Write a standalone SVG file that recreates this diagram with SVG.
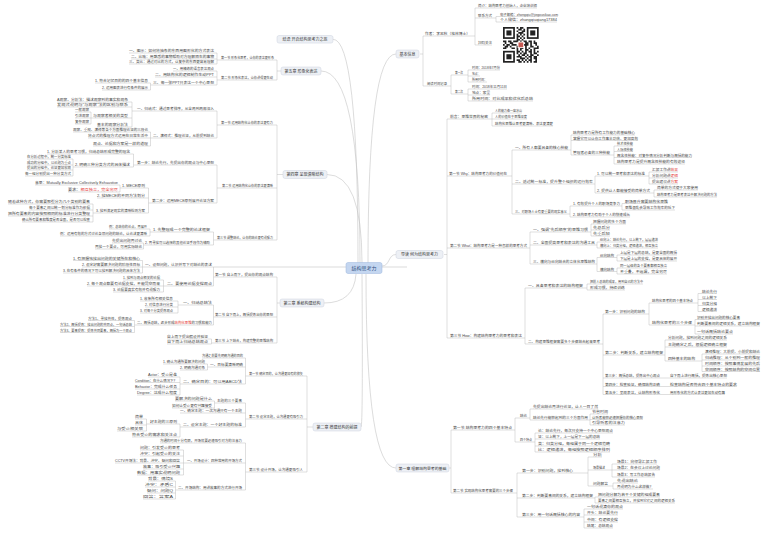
<svg xmlns="http://www.w3.org/2000/svg" width="768" height="536" viewBox="0 0 768 536">
<style>
text{font-family:"Liberation Sans","Noto Sans CJK SC",sans-serif}
.n text{font-size:3.5px;fill:#454545}
.n line{stroke:#b8b8b8;stroke-width:.45}
#connectors path{stroke:#b8b8b8;stroke-width:.45;fill:none}
#curves path{stroke:#c4c4c4;stroke-width:.6;fill:none}
.box rect{fill:#edf0f5;stroke:#ccd3df;stroke-width:.5}
.box text{font-size:4px;fill:#333;text-anchor:middle}
.r{fill:#e53935}
</style>
<rect width="768" height="536" fill="#fff"/>
<g id="curves">
<path d="M368,263 Q368,54 396,54"/>
<path d="M382,266 C390,266 388,254.5 396,254.5"/>
<path d="M366,274 Q366,468 396,468"/>
<path d="M358,263 Q358,39.3 333,39.3"/>
<path d="M360,263 Q360,71 321,71"/>
<path d="M362,263 Q362,174.5 327,174.5"/>
<path d="M356,274 Q354,303 324,303"/>
<path d="M362,274 Q363,427 361,427"/>
<path d="M213.5,267 H346 M382,267 H407"/>
</g>
<g id="connectors">
<path d="M420,54 H423 M423,36 V86 M423,36 H425 M423,86 H427"/>
<path d="M470,36 H475 M475,8 V45 M475,8 H478 M475,18 H478 M475,45 H478"/>
<path d="M492,18 H496 M496,16.5 V22 M496,16.5 H500 M496,22 H500"/>
<path d="M447,86 H451 M451,75 V94 M451,75 H455 M451,94 H455"/>
<path d="M463,75 H468 M468,70 V82 M468,70 H472 M468,76 H472 M468,82 H472"/>
<path d="M463,94 H468 M468,89 V101 M468,89 H472 M468,95 H472 M468,101 H472"/>
<path d="M444,254.5 H447 M447,119 V338 M447,119 H450 M447,176 H449 M447,248 H450 M447,338 H450"/>
<path d="M488,119 H492 M492,113 V126 M492,113 H495 M492,119 H495 M492,126 H495"/>
<path d="M507,176 H512 M512,150 V214 M512,150 H515 M512,184 H515 M512,214 H515"/>
<path d="M568,150 H571 M571,135 V155 M571,135 H573 M571,140.5 H573 M571,155 H573"/>
<path d="M610,155 H614 M614,146 V164 M614,146 H617 M614,151.5 H617 M614,157.5 H617 M614,164 H617"/>
<path d="M593,184 H595 M595,176 V193 M595,176 H597 M595,193 H597"/>
<path d="M645,176 H649 M649,172 V184 M649,172 H652 M649,178 H652 M649,184 H652"/>
<path d="M650,193 H654 M654,190 V197 M654,190 H657 M654,197 H657"/>
<path d="M567,214 H570 M570,206 V217 M570,206 H573 M570,217 H573"/>
<path d="M620,206 H622 M622,203.5 V210 M622,203.5 H625 M622,210 H625"/>
<path d="M527,248 H530 M530,232 V264 M530,232 H533 M530,245 H533 M530,264 H533"/>
<path d="M588,232 H591 M591,224 V236 M591,224 H593 M591,230 H593 M591,236 H593"/>
<path d="M595,245 H597 M597,242 V248 M597,242 H600 M597,248 H600"/>
<path d="M595,264 H597 M597,257.5 V271.5 M597,257.5 H600 M597,271.5 H600"/>
<path d="M614,257.5 H617 M617,255 V261 M617,255 H620 M617,261 H620"/>
<path d="M614,271.5 H617 M617,268 V274 M617,268 H620 M617,274 H620"/>
<path d="M522,338 H525 M525,288 V344 M525,288 H528 M525,344 H528"/>
<path d="M583,288 H587 M587,284 V290 M587,284 H590 M587,290 H590"/>
<path d="M600,344 H603 M603,314 V394.5 M603,314 H605 M603,355 H605 M603,378 H605 M603,386.5 H605 M603,394.5 H605"/>
<path d="M645,314 H649 M649,303 V325 M649,303 H652 M649,325 H652"/>
<path d="M693,303 H698 M698,293.5 V311.5 M698,293.5 H702 M698,299.5 H702 M698,305.5 H702 M698,311.5 H702"/>
<path d="M692,325 H695 M695,319.5 V334 M695,319.5 H697 M695,326 H697 M695,334 H697"/>
<path d="M663,355 H665 M665,340 V361 M665,340 H668 M665,347 H668 M665,361 H668"/>
<path d="M695,361 H702 M702,354 V371.5 M702,354 H705 M702,360 H705 M702,366 H705 M702,371.5 H705"/>
<path d="M660,378 H670 M660,386.5 H670 M660,394.5 H670"/>
<path d="M449,468 H451 M451,430 V493 M451,430 H453 M451,493 H453"/>
<path d="M512,430 H515 M515,418 V442 M515,418 H520 M515,442 H520"/>
<path d="M527,418 H530 M530,409 V420 M530,409 H533 M530,420 H533"/>
<path d="M588,420 H590 M590,414 V425 M590,414 H592 M590,419.5 H592 M590,425 H592"/>
<path d="M532,442 H535 M535,433 V452 M535,433 H538 M535,439 H538 M535,446 H538 M535,452 H538"/>
<path d="M513,493 H517 M517,473 V517 M517,473 H522 M517,498 H522 M517,517 H522"/>
<path d="M573,473 H588 M588,457 V486 M588,457 H593 M588,470 H593 M588,486 H593"/>
<path d="M605,470 H612 M612,464 V477 M612,464 H617 M612,470 H617 M612,477 H617"/>
<path d="M608,486 H613 M613,483 V489 M613,483 H617 M613,489 H617"/>
<path d="M593,498 H595 M595,497 V503 M595,497 H598 M595,503 H598"/>
<path d="M580,517 H584 M584,509 V528 M584,509 H587 M584,515 H587 M584,522 H587 M584,528 H587"/>
<path d="M281,71 H277 M277,60 V80 M277,60 H274 M277,80 H273"/>
<path d="M221,60 H217 M217,53 V64 M217,53 H214 M217,59 H214 M217,64 H214"/>
<path d="M221,80 H217 M217,71 V85 M217,71 H214 M217,77 H214 M217,85 H214"/>
<path d="M153,85 H150.5 M150.5,83 V90 M150.5,83 H148 M150.5,90 H148"/>
<path d="M283,174.5 H277 M277,125 V240 M277,125 H273 M277,188 H273 M277,240 H273"/>
<path d="M221,125 H217 M217,111 V138 M217,111 H214 M217,138 H214"/>
<path d="M137,111 H132 M132,102 V127 M132,102 H128 M132,107 H128 M132,118 H128 M132,127 H128"/>
<path d="M93,118 H91 M91,112 V124 M91,112 H89 M91,118 H89 M91,124 H89"/>
<path d="M153,138 H150.5 M150.5,132 V146 M150.5,132 H148 M150.5,138 H148 M150.5,146 H148"/>
<path d="M222,188 H217 M217,165 V203 M217,165 H214 M217,203 H214"/>
<path d="M137,165 H133.5 M133.5,154 V167 M133.5,154 H130 M133.5,167 H130"/>
<path d="M75,167 H73 M73,159 V176 M73,159 H71 M73,165 H71 M73,170 H71 M73,176 H71"/>
<path d="M152,203 H148.5 M148.5,188 V213 M148.5,188 H145 M148.5,198 H145 M148.5,213 H145"/>
<path d="M122,188 H120 M120,185 V192 M120,185 H118 M120,192 H118"/>
<path d="M96,213 H93 M93,204 V222 M93,204 H90 M93,210 H90 M93,216 H90 M93,222 H90"/>
<path d="M217,240 H213.5 M213.5,232 V245 M213.5,232 H210 M213.5,245 H210"/>
<path d="M153,232 H150 M150,229 V236 M150,229 H147 M150,236 H147"/>
<path d="M145,245 H143.5 M143.5,243 V249 M143.5,243 H142 M143.5,249 H142"/>
<path d="M280,303 H277 M277,277 V343 M277,277 H273 M277,317 H273 M277,343 H273"/>
<path d="M215,277 H213.5 M213.5,267 V286 M213.5,267 H212 M213.5,286 H212"/>
<path d="M145,267 H142.5 M142.5,260.5 V273 M142.5,260.5 H140 M142.5,267 H140 M142.5,273 H140"/>
<path d="M167,286 H163.5 M163.5,280 V292 M163.5,280 H160 M163.5,286 H160 M163.5,292 H160"/>
<path d="M215,317 H213.5 M213.5,305 V325 M213.5,305 H212 M213.5,325 H212"/>
<path d="M183,305 H178 M178,301 V313 M178,301 H173 M178,307 H173 M178,313 H173"/>
<path d="M137,325 H134.5 M134.5,320.5 V332.5 M134.5,320.5 H132 M134.5,326.5 H132 M134.5,332.5 H132"/>
<path d="M215,343 H211.5 M211.5,339 V344 M211.5,339 H208 M211.5,344 H208"/>
<path d="M313,427 H307 M307,376 V472 M307,376 H303 M307,419 H303 M307,472 H303"/>
<path d="M249,376 H245.5 M245.5,358 V384 M245.5,358 H243 M245.5,367 H243 M245.5,384 H242"/>
<path d="M210,367 H207.5 M207.5,364 V370 M207.5,364 H205 M207.5,370 H205"/>
<path d="M183,384 H180 M180,377 V395 M180,377 H177 M180,382.5 H177 M180,389 H177 M180,395 H177"/>
<path d="M249,419 H245.5 M245.5,403 V427 M245.5,403 H242 M245.5,413 H242 M245.5,427 H242"/>
<path d="M217,403 H214.5 M214.5,401 V408 M214.5,401 H212 M214.5,408 H212"/>
<path d="M183,427 H180 M180,424 V437 M180,424 H177 M180,437 H177"/>
<path d="M150,424 H146.5 M146.5,419 V431 M146.5,419 H143 M146.5,425 H143 M146.5,431 H143"/>
<path d="M249,472 H245.5 M245.5,443 V490 M245.5,443 H242 M245.5,463 H242 M245.5,490 H242"/>
<path d="M187,463 H183.5 M183.5,450 V475 M183.5,450 H180 M183.5,456 H180 M183.5,463 H180 M183.5,469 H180 M183.5,475 H180"/>
<path d="M178,490 H175.5 M175.5,481 V499 M175.5,481 H173 M175.5,487 H173 M175.5,493 H173 M175.5,499 H173"/>
</g>
<g id="center" class="box"><rect x="346" y="262.5" width="36" height="11" rx="2" style="fill:#c4d6f0;stroke:#9db6dc"/><text x="364" y="270" style="font-size:5px;fill:#2f4f80">结构思考力</text></g>
<g id="b-info" class="box"><rect x="396" y="50" width="23" height="8" rx="2"/><text x="407.5" y="55.5">基本信息</text></g>
<g id="b-guide" class="box"><rect x="396" y="250.5" width="47" height="8" rx="2"/><text x="419.5" y="256">导读 何为结构思考力</text></g>
<g id="b-ch1" class="box"><rect x="396" y="464" width="53" height="8" rx="2"/><text x="422.5" y="469.5" style="font-size:3.9px">第一章 理解结构思考的基础</text></g>
<g id="b-end" class="box"><rect x="277" y="35.5" width="56" height="7.6" rx="2"/><text x="305" y="40.8">结语 开启结构思考力之旅</text></g>
<g id="b-ch5" class="box"><rect x="281" y="67" width="40" height="8" rx="2"/><text x="301" y="72.5">第五章 形象化表达</text></g>
<g id="b-ch4" class="box"><rect x="283" y="170.5" width="44" height="8" rx="2"/><text x="305" y="176">第四章 呈现清晰结构</text></g>
<g id="b-ch3" class="box"><rect x="280" y="299" width="44" height="8" rx="2"/><text x="302" y="304.5">第三章 系统构建结构</text></g>
<g id="b-ch2" class="box"><rect x="313" y="423" width="48" height="8" rx="2"/><text x="337" y="428.5">第二章 搭建结构的前提</text></g>
<g id="qr" transform="translate(503,27) scale(1.7)">
<rect x="-0.5" y="-0.5" width="22" height="22" fill="#fff"/>
<g fill="none" stroke="#222" stroke-width="1"><rect x=".5" y=".5" width="6" height="6"/><rect x="14.5" y=".5" width="6" height="6"/><rect x=".5" y="14.5" width="6" height="6"/></g>
<g fill="#222"><rect x="2" y="2" width="3" height="3"/><rect x="16" y="2" width="3" height="3"/><rect x="2" y="16" width="3" height="3"/>
<path d="M8 0h1v1h-1zM10 0h2v1h-2zM9 1h2v1h-2zM12 1h1v1h-1zM8 2h1v1h-1zM11 2h2v1h-2zM9 3h3v1h-3zM8 4h1v1h-1zM10 4h1v1h-1zM12 4h1v1h-1zM8 5h2v1h-2zM11 5h1v1h-1zM8 6h1v1h-1zM10 6h1v1h-1zM12 6h1v1h-1zM8 7h2v1h-2zM11 7h1v1h-1zM0 8h2v1h-2zM3 8h2v1h-2zM6 8h3v1h-3zM10 8h1v1h-1zM12 8h2v1h-2zM15 8h2v1h-2zM18 8h1v1h-1zM1 9h1v1h-1zM4 9h2v1h-2zM9 9h3v1h-3zM13 9h2v1h-2zM16 9h1v1h-1zM18 9h2v1h-2zM0 10h1v1h-1zM2 10h2v1h-2zM5 10h3v1h-3zM9 10h1v1h-1zM12 10h3v1h-3zM16 10h1v1h-1zM19 10h1v1h-1zM1 11h2v1h-2zM4 11h1v1h-1zM8 11h1v1h-1zM10 11h2v1h-2zM13 11h1v1h-1zM16 11h2v1h-2zM20 11h1v1h-1zM0 12h2v1h-2zM5 12h2v1h-2zM8 12h1v1h-1zM10 12h2v1h-2zM13 12h1v1h-1zM15 12h1v1h-1zM18 12h3v1h-3zM8 13h1v1h-1zM10 13h1v1h-1zM13 13h2v1h-2zM16 13h1v1h-1zM18 13h1v1h-1zM8 14h2v1h-2zM11 14h1v1h-1zM13 14h1v1h-1zM15 14h2v1h-2zM18 14h1v1h-1zM20 14h1v1h-1zM8 15h1v1h-1zM10 15h1v1h-1zM12 15h2v1h-2zM16 15h1v1h-1zM18 15h2v1h-2zM9 16h1v1h-1zM11 16h2v1h-2zM14 16h1v1h-1zM16 16h2v1h-2zM20 16h1v1h-1zM8 17h3v1h-3zM13 17h1v1h-1zM15 17h2v1h-2zM18 17h2v1h-2zM10 18h3v1h-3zM14 18h1v1h-1zM16 18h1v1h-1zM18 18h2v1h-2zM8 19h2v1h-2zM11 19h1v1h-1zM13 19h1v1h-1zM15 19h2v1h-2zM19 19h1v1h-1zM9 20h2v1h-2zM12 20h1v1h-1zM14 20h1v1h-1zM16 20h1v1h-1zM18 20h2v1h-2z"/></g>
<rect x="8.6" y="8.6" width="3.8" height="3.8" fill="#fff"/><rect x="9.1" y="9.1" width="2.8" height="2.8" fill="#c75a54"/>
</g>
<g id="nodes-right" class="n">
<g id="r-author"><text x="425" y="35" textLength="45" lengthAdjust="spacingAndGlyphs">作者：李忠秋（格林博士）</text><line x1="425" y1="36" x2="470" y2="36"/></g>
<g id="r-intro"><text x="478" y="7" textLength="59" lengthAdjust="spacingAndGlyphs">简介：结构思考力创始人，企业培训师</text><line x1="478" y1="8" x2="537" y2="8"/></g>
<g id="r-contact"><text x="478" y="17" textLength="14" lengthAdjust="spacingAndGlyphs">联系方式</text><line x1="478" y1="18" x2="492" y2="18"/></g>
<g id="r-mail"><text x="500" y="15.5" textLength="58" lengthAdjust="spacingAndGlyphs">电子邮箱：zhongqiu@jiegousikao.com</text><line x1="500" y1="16.5" x2="558" y2="16.5"/></g>
<g id="r-wechat"><text x="500" y="21" textLength="57" lengthAdjust="spacingAndGlyphs">个人微信：zhangqiuqiang17384</text><line x1="500" y1="22" x2="557" y2="22"/></g>
<g id="r-qr"><text x="478" y="44" textLength="14" lengthAdjust="spacingAndGlyphs">扫码关注</text><line x1="478" y1="45" x2="492" y2="45"/></g>
<g id="r-read"><text x="427" y="85" textLength="20" lengthAdjust="spacingAndGlyphs">阅读时间记录</text><line x1="427" y1="86" x2="447" y2="86"/></g>
<g id="r-1st"><text x="455" y="74" textLength="8" lengthAdjust="spacingAndGlyphs">第一次</text><line x1="455" y1="75" x2="463" y2="75"/></g>
<g id="r-1t"><text x="472" y="69" textLength="28" lengthAdjust="spacingAndGlyphs">时间：2018年7月份</text><line x1="472" y1="70" x2="500" y2="70"/></g>
<g id="r-1p"><text x="472" y="75" textLength="8" lengthAdjust="spacingAndGlyphs">地点：</text><line x1="472" y1="76" x2="480" y2="76"/></g>
<g id="r-1d"><text x="472" y="81" textLength="15" lengthAdjust="spacingAndGlyphs">所用时间：</text><line x1="472" y1="82" x2="487" y2="82"/></g>
<g id="r-2nd"><text x="455" y="93" textLength="8" lengthAdjust="spacingAndGlyphs">第二次</text><line x1="455" y1="94" x2="463" y2="94"/></g>
<g id="r-2t"><text x="472" y="88" textLength="35" lengthAdjust="spacingAndGlyphs">时间：2018年11月11日</text><line x1="472" y1="89" x2="507" y2="89"/></g>
<g id="r-2p"><text x="472" y="94" textLength="18" lengthAdjust="spacingAndGlyphs">地点：家里</text><line x1="472" y1="95" x2="490" y2="95"/></g>
<g id="r-2d"><text x="472" y="100" textLength="61" lengthAdjust="spacingAndGlyphs">所用时间：对比成果和优化后总结</text><line x1="472" y1="101" x2="533" y2="101"/></g>
<g id="a"><text x="450" y="118" textLength="38" lengthAdjust="spacingAndGlyphs">前言：思维世界的秘密</text><line x1="450" y1="119" x2="488" y2="119"/></g>
<g id="a1"><text x="495" y="112" textLength="27" lengthAdjust="spacingAndGlyphs">人的能力像一座冰山</text><line x1="495" y1="113" x2="522" y2="113"/></g>
<g id="a2"><text x="495" y="118" textLength="32" lengthAdjust="spacingAndGlyphs">人的价值在于思维深度</text><line x1="495" y1="119" x2="527" y2="119"/></g>
<g id="a3"><text x="495" y="125" textLength="58" lengthAdjust="spacingAndGlyphs">结构化思维让思考更清晰、表达更清楚</text><line x1="495" y1="126" x2="553" y2="126"/></g>
<g id="b"><text x="449" y="175" textLength="58" lengthAdjust="spacingAndGlyphs">第一节 Why：结构思考力的价值何在</text><line x1="449" y1="176" x2="507" y2="176"/></g>
<g id="b1"><text x="515" y="149" textLength="53" lengthAdjust="spacingAndGlyphs">一、所有人都要具备的核心技能</text><line x1="515" y1="150" x2="568" y2="150"/></g>
<g id="b1a"><text x="573" y="134" textLength="62" lengthAdjust="spacingAndGlyphs">结构思考力是所有工作能力的基础核心</text><line x1="573" y1="135" x2="635" y2="135"/></g>
<g id="b1b"><text x="573" y="139.5" textLength="65" lengthAdjust="spacingAndGlyphs">掌握它可以让你工作事半功倍、更加高效</text><line x1="573" y1="140.5" x2="638" y2="140.5"/></g>
<g id="b1c"><text x="573" y="154" textLength="37" lengthAdjust="spacingAndGlyphs">管理者必备的三种技能</text><line x1="573" y1="155" x2="610" y2="155"/></g>
<g id="b1c1"><text x="617" y="145" textLength="16" lengthAdjust="spacingAndGlyphs">技术性技能</text><line x1="617" y1="146" x2="633" y2="146"/></g>
<g id="b1c2"><text x="617" y="150.5" textLength="16" lengthAdjust="spacingAndGlyphs">人际性技能</text><line x1="617" y1="151.5" x2="633" y2="151.5"/></g>
<g id="b1c3"><text x="617" y="156.5" textLength="75" lengthAdjust="spacingAndGlyphs">概念性技能：对复杂情况分析判断与概括的能力</text><line x1="617" y1="157.5" x2="692" y2="157.5"/></g>
<g id="b1c4"><text x="617" y="163" textLength="68" lengthAdjust="spacingAndGlyphs">结构思考力是提升概念性技能的有效途径</text><line x1="617" y1="164" x2="685" y2="164"/></g>
<g id="b2"><text x="515" y="183" textLength="78" lengthAdjust="spacingAndGlyphs">二、透过统一标准，提升整个组织的运行效率</text><line x1="515" y1="184" x2="593" y2="184"/></g>
<g id="b2a"><text x="597" y="175" textLength="48" lengthAdjust="spacingAndGlyphs">1. 可以统一思考和表达的标准</text><line x1="597" y1="176" x2="645" y2="176"/></g>
<g id="b2a1"><text x="652" y="171" textLength="26" lengthAdjust="spacingAndGlyphs">汇报工作讲<tspan class="r">结果</tspan></text><line x1="652" y1="172" x2="678" y2="172"/></g>
<g id="b2a2"><text x="652" y="177" textLength="26" lengthAdjust="spacingAndGlyphs">分析问题讲<tspan class="r">逻辑</tspan></text><line x1="652" y1="178" x2="678" y2="178"/></g>
<g id="b2a3"><text x="652" y="183" textLength="26" lengthAdjust="spacingAndGlyphs">提出建议讲<tspan class="r">方案</tspan></text><line x1="652" y1="184" x2="678" y2="184"/></g>
<g id="b2b"><text x="597" y="192" textLength="53" lengthAdjust="spacingAndGlyphs">2. 提供让人都能接受的简单方式</text><line x1="597" y1="193" x2="650" y2="193"/></g>
<g id="b2b1"><text x="657" y="189" textLength="41" lengthAdjust="spacingAndGlyphs">简单的方式便于大家使用</text><line x1="657" y1="190" x2="698" y2="190"/></g>
<g id="b2b2"><text x="657" y="196" textLength="60" lengthAdjust="spacingAndGlyphs">结构思考力是思考表达中解决问题的方法</text><line x1="657" y1="197" x2="717" y2="197"/></g>
<g id="b3"><text x="515" y="213" textLength="52" lengthAdjust="spacingAndGlyphs">三、对职场人士有更重要的现实意义</text><line x1="515" y1="214" x2="567" y2="214"/></g>
<g id="b3a"><text x="573" y="205" textLength="47" lengthAdjust="spacingAndGlyphs">1. 有效提升个人的职场竞争力</text><line x1="573" y1="206" x2="620" y2="206"/></g>
<g id="b3a1"><text x="625" y="202.5" textLength="43" lengthAdjust="spacingAndGlyphs">职场晋升需要结构化思维</text><line x1="625" y1="203.5" x2="668" y2="203.5"/></g>
<g id="b3a2"><text x="625" y="209" textLength="50" lengthAdjust="spacingAndGlyphs">思维混乱会导致工作效率的低下</text><line x1="625" y1="210" x2="675" y2="210"/></g>
<g id="b3b"><text x="573" y="216" textLength="57" lengthAdjust="spacingAndGlyphs">2. 结构思考力有助于个人的快速成长</text><line x1="573" y1="217" x2="630" y2="217"/></g>
<g id="c"><text x="450" y="247" textLength="77" lengthAdjust="spacingAndGlyphs">第二节 What：结构思考力是一种怎样的思考方式</text><line x1="450" y1="248" x2="527" y2="248"/></g>
<g id="c1"><text x="533" y="231" textLength="55" lengthAdjust="spacingAndGlyphs">一、强调“先后顺序”的思维习惯</text><line x1="533" y1="232" x2="588" y2="232"/></g>
<g id="c1a"><text x="593" y="223" textLength="33" lengthAdjust="spacingAndGlyphs">把握问题的多个方面</text><line x1="593" y1="224" x2="626" y2="224"/></g>
<g id="c1b"><text x="593" y="229" textLength="17" lengthAdjust="spacingAndGlyphs">先总后分</text><line x1="593" y1="230" x2="610" y2="230"/></g>
<g id="c1c"><text x="593" y="235" textLength="17" lengthAdjust="spacingAndGlyphs">先重后轻</text><line x1="593" y1="236" x2="610" y2="236"/></g>
<g id="c2"><text x="533" y="244" textLength="62" lengthAdjust="spacingAndGlyphs">二、全面提高思考和表达的沟通工具</text><line x1="533" y1="245" x2="595" y2="245"/></g>
<g id="c2a"><text x="600" y="241" textLength="58" lengthAdjust="spacingAndGlyphs">纵向上：结论先行，以上统下，层层递进</text><line x1="600" y1="242" x2="658" y2="242"/></g>
<g id="c2b"><text x="600" y="247" textLength="58" lengthAdjust="spacingAndGlyphs">横向上：归类分组，逻辑递进，相互独立</text><line x1="600" y1="248" x2="658" y2="248"/></g>
<g id="c3"><text x="533" y="263" textLength="62" lengthAdjust="spacingAndGlyphs">三、横向与纵向结合的立体化思维结构</text><line x1="533" y1="264" x2="595" y2="264"/></g>
<g id="c3a"><text x="600" y="256.5" textLength="14" lengthAdjust="spacingAndGlyphs">纵向结构</text><line x1="600" y1="257.5" x2="614" y2="257.5"/></g>
<g id="c3a1"><text x="620" y="254" textLength="57" lengthAdjust="spacingAndGlyphs">上层是下层的总结，是更全面的概括</text><line x1="620" y1="255" x2="677" y2="255"/></g>
<g id="c3a2"><text x="620" y="260" textLength="57" lengthAdjust="spacingAndGlyphs">下层是上层的支撑，是更具体的展开</text><line x1="620" y1="261" x2="677" y2="261"/></g>
<g id="c3b"><text x="600" y="270.5" textLength="14" lengthAdjust="spacingAndGlyphs">横向结构</text><line x1="600" y1="271.5" x2="614" y2="271.5"/></g>
<g id="c3b1"><text x="620" y="267" textLength="47" lengthAdjust="spacingAndGlyphs">同一层级的各个要素都相互独立</text><line x1="620" y1="268" x2="667" y2="268"/></g>
<g id="c3b2"><text x="620" y="273" textLength="47" lengthAdjust="spacingAndGlyphs">不重叠，不遗漏，完全穷尽</text><line x1="620" y1="274" x2="667" y2="274"/></g>
<g id="d"><text x="450" y="337" textLength="72" lengthAdjust="spacingAndGlyphs">第三节 How：构建结构思考力的思考和表达</text><line x1="450" y1="338" x2="522" y2="338"/></g>
<g id="d1"><text x="528" y="287" textLength="55" lengthAdjust="spacingAndGlyphs">一、具备思考和表达的结构框架</text><line x1="528" y1="288" x2="583" y2="288"/></g>
<g id="d1a"><text x="590" y="283" textLength="53" lengthAdjust="spacingAndGlyphs">把前人总结的成果，用到自己的方法中</text><line x1="590" y1="284" x2="643" y2="284"/></g>
<g id="d1b"><text x="590" y="289" textLength="35" lengthAdjust="spacingAndGlyphs">形成习惯，持续训练</text><line x1="590" y1="290" x2="625" y2="290"/></g>
<g id="d2"><text x="528" y="343" textLength="72" lengthAdjust="spacingAndGlyphs">二、构建思维框架需要多个步骤结合起来思考</text><line x1="528" y1="344" x2="600" y2="344"/></g>
<g id="d2a"><text x="605" y="313" textLength="40" lengthAdjust="spacingAndGlyphs">第一步：识别问题的结构</text><line x1="605" y1="314" x2="645" y2="314"/></g>
<g id="d2a1"><text x="652" y="302" textLength="41" lengthAdjust="spacingAndGlyphs">结构化思考的四个基本特点</text><line x1="652" y1="303" x2="693" y2="303"/></g>
<g id="d2a1a"><text x="702" y="292.5" textLength="15" lengthAdjust="spacingAndGlyphs">结论先行</text><line x1="702" y1="293.5" x2="717" y2="293.5"/></g>
<g id="d2a1b"><text x="702" y="298.5" textLength="15" lengthAdjust="spacingAndGlyphs">以上统下</text><line x1="702" y1="299.5" x2="717" y2="299.5"/></g>
<g id="d2a1c"><text x="702" y="304.5" textLength="15" lengthAdjust="spacingAndGlyphs">归类分组</text><line x1="702" y1="305.5" x2="717" y2="305.5"/></g>
<g id="d2a1d"><text x="702" y="310.5" textLength="15" lengthAdjust="spacingAndGlyphs">逻辑递进</text><line x1="702" y1="311.5" x2="717" y2="311.5"/></g>
<g id="d2a2"><text x="652" y="324" textLength="40" lengthAdjust="spacingAndGlyphs">结构化思考的三个步骤</text><line x1="652" y1="325" x2="692" y2="325"/></g>
<g id="d2a2a"><text x="697" y="318.5" textLength="43" lengthAdjust="spacingAndGlyphs">识别并找出问题的核心要素</text><line x1="697" y1="319.5" x2="740" y2="319.5"/></g>
<g id="d2a2b"><text x="697" y="325" textLength="63" lengthAdjust="spacingAndGlyphs">判断要素间的逻辑关系，建立结构框架</text><line x1="697" y1="326" x2="760" y2="326"/></g>
<g id="d2a2c"><text x="697" y="333" textLength="36" lengthAdjust="spacingAndGlyphs">一句话概括结论要点</text><line x1="697" y1="334" x2="733" y2="334"/></g>
<g id="d2b"><text x="605" y="354" textLength="58" lengthAdjust="spacingAndGlyphs">第二步：判断关系，建立结构框架</text><line x1="605" y1="355" x2="663" y2="355"/></g>
<g id="d2b1"><text x="668" y="339" textLength="59" lengthAdjust="spacingAndGlyphs">分析问题，找到问题之间的逻辑关系</text><line x1="668" y1="340" x2="727" y2="340"/></g>
<g id="d2b2"><text x="668" y="346" textLength="59" lengthAdjust="spacingAndGlyphs">主题确定之后，根据逻辑确立框架</text><line x1="668" y1="347" x2="727" y2="347"/></g>
<g id="d2b3"><text x="668" y="360" textLength="27" lengthAdjust="spacingAndGlyphs">四种基本的结构</text><line x1="668" y1="361" x2="695" y2="361"/></g>
<g id="d2b3a"><text x="705" y="353" textLength="55" lengthAdjust="spacingAndGlyphs">演绎推理：大前提、小前提和结论</text><line x1="705" y1="354" x2="760" y2="354"/></g>
<g id="d2b3b"><text x="705" y="359" textLength="55" lengthAdjust="spacingAndGlyphs">归纳推理：从个别到一般的推理</text><line x1="705" y1="360" x2="760" y2="360"/></g>
<g id="d2b3c"><text x="705" y="365" textLength="55" lengthAdjust="spacingAndGlyphs">时间顺序：按照事情发展的先后</text><line x1="705" y1="366" x2="760" y2="366"/></g>
<g id="d2b3d"><text x="705" y="370.5" textLength="55" lengthAdjust="spacingAndGlyphs">空间顺序：按照结构的空间位置</text><line x1="705" y1="371.5" x2="760" y2="371.5"/></g>
<g id="d2c"><text x="605" y="377" textLength="55" lengthAdjust="spacingAndGlyphs">第三步：概括总结，提炼出中心观点</text><line x1="605" y1="378" x2="660" y2="378"/></g>
<g id="d2c1"><text x="670" y="377" textLength="57" lengthAdjust="spacingAndGlyphs">自下而上进行概括，提炼出核心思想</text><line x1="670" y1="378" x2="727" y2="378"/></g>
<g id="d2d"><text x="605" y="385.5" textLength="55" lengthAdjust="spacingAndGlyphs">第四步：检查验证，确保结构正确</text><line x1="605" y1="386.5" x2="660" y2="386.5"/></g>
<g id="d2d1"><text x="670" y="385.5" textLength="67" lengthAdjust="spacingAndGlyphs">检查结构是否符合四个基本特点的要求</text><line x1="670" y1="386.5" x2="737" y2="386.5"/></g>
<g id="d2e"><text x="605" y="393.5" textLength="55" lengthAdjust="spacingAndGlyphs">第五步：呈现表达，让结构形象化</text><line x1="605" y1="394.5" x2="660" y2="394.5"/></g>
<g id="d2e1"><text x="670" y="393.5" textLength="55" lengthAdjust="spacingAndGlyphs">用形象化的方式让表达更加生动有趣</text><line x1="670" y1="394.5" x2="725" y2="394.5"/></g>
<g id="e"><text x="453" y="429" textLength="59" lengthAdjust="spacingAndGlyphs">第一节 结构思考力的四个基本特点</text><line x1="453" y1="430" x2="512" y2="430"/></g>
<g id="e1"><text x="520" y="417" textLength="7" lengthAdjust="spacingAndGlyphs">结论</text><line x1="520" y1="418" x2="527" y2="418"/></g>
<g id="e1a"><text x="533" y="408" textLength="65" lengthAdjust="spacingAndGlyphs">先提出结论再进行论证，让人一目了然</text><line x1="533" y1="409" x2="598" y2="409"/></g>
<g id="e1b"><text x="533" y="419" textLength="55" lengthAdjust="spacingAndGlyphs">结论先行能够起到的三个方面作用</text><line x1="533" y1="420" x2="588" y2="420"/></g>
<g id="e1b1"><text x="592" y="413" textLength="16" lengthAdjust="spacingAndGlyphs">节省时间</text><line x1="592" y1="414" x2="608" y2="414"/></g>
<g id="e1b2"><text x="592" y="418.5" textLength="51" lengthAdjust="spacingAndGlyphs">让听者能够迅速把握你的核心思想</text><line x1="592" y1="419.5" x2="643" y2="419.5"/></g>
<g id="e1b3"><text x="592" y="424" textLength="33" lengthAdjust="spacingAndGlyphs">引导听者的注意力</text><line x1="592" y1="425" x2="625" y2="425"/></g>
<g id="e2"><text x="520" y="441" textLength="12" lengthAdjust="spacingAndGlyphs">四个特点</text><line x1="520" y1="442" x2="532" y2="442"/></g>
<g id="e2a"><text x="538" y="432" textLength="75" lengthAdjust="spacingAndGlyphs">论：结论先行，每次只支持一个中心思想观点</text><line x1="538" y1="433" x2="613" y2="433"/></g>
<g id="e2b"><text x="538" y="438" textLength="62" lengthAdjust="spacingAndGlyphs">证：以上统下，上一层是下一层的总结</text><line x1="538" y1="439" x2="600" y2="439"/></g>
<g id="e2c"><text x="538" y="445" textLength="72" lengthAdjust="spacingAndGlyphs">类：归类分组，每组属于同一个逻辑范畴</text><line x1="538" y1="446" x2="610" y2="446"/></g>
<g id="e2d"><text x="538" y="451" textLength="72" lengthAdjust="spacingAndGlyphs">比：逻辑递进，每组按照逻辑顺序排列</text><line x1="538" y1="452" x2="610" y2="452"/></g>
<g id="f"><text x="453" y="492" textLength="60" lengthAdjust="spacingAndGlyphs">第二节 实现结构化思考需要的三个步骤</text><line x1="453" y1="493" x2="513" y2="493"/></g>
<g id="f1"><text x="522" y="472" textLength="51" lengthAdjust="spacingAndGlyphs">第一步：识别问题，找到核心</text><line x1="522" y1="473" x2="573" y2="473"/></g>
<g id="f1a"><text x="593" y="456" textLength="9" lengthAdjust="spacingAndGlyphs">分析</text><line x1="593" y1="457" x2="602" y2="457"/></g>
<g id="f1b"><text x="593" y="469" textLength="12" lengthAdjust="spacingAndGlyphs">场景描述</text><line x1="593" y1="470" x2="605" y2="470"/></g>
<g id="f1b1"><text x="617" y="463" textLength="40" lengthAdjust="spacingAndGlyphs">场景1：向领导汇报工作</text><line x1="617" y1="464" x2="657" y2="464"/></g>
<g id="f1b2"><text x="617" y="469" textLength="43" lengthAdjust="spacingAndGlyphs">场景2：在会议上讨论问题</text><line x1="617" y1="470" x2="660" y2="470"/></g>
<g id="f1b3"><text x="617" y="476" textLength="38" lengthAdjust="spacingAndGlyphs">场景3：写工作总结报告</text><line x1="617" y1="477" x2="655" y2="477"/></g>
<g id="f1c"><text x="593" y="485" textLength="15" lengthAdjust="spacingAndGlyphs">问题解答</text><line x1="593" y1="486" x2="608" y2="486"/></g>
<g id="f1c1"><text x="617" y="482" textLength="21" lengthAdjust="spacingAndGlyphs">先说出结论</text><line x1="617" y1="483" x2="638" y2="483"/></g>
<g id="f1c2"><text x="617" y="488" textLength="36" lengthAdjust="spacingAndGlyphs">再说明为什么这样做？</text><line x1="617" y1="489" x2="653" y2="489"/></g>
<g id="f2"><text x="522" y="497" textLength="71" lengthAdjust="spacingAndGlyphs">第二步：判断要素间的关系，建立结构框架</text><line x1="522" y1="498" x2="593" y2="498"/></g>
<g id="f2a"><text x="598" y="496" textLength="62" lengthAdjust="spacingAndGlyphs">把问题分解为若干个关键的组成要素</text><line x1="598" y1="497" x2="660" y2="497"/></g>
<g id="f2b"><text x="598" y="502" textLength="77" lengthAdjust="spacingAndGlyphs">要素之间要相互独立，并找到它们之间的逻辑关系</text><line x1="598" y1="503" x2="675" y2="503"/></g>
<g id="f3"><text x="522" y="516" textLength="58" lengthAdjust="spacingAndGlyphs">第三步：用一句话概括核心的内容</text><line x1="522" y1="517" x2="580" y2="517"/></g>
<g id="f3a"><text x="587" y="508" textLength="36" lengthAdjust="spacingAndGlyphs">一句话说清你的观点</text><line x1="587" y1="509" x2="623" y2="509"/></g>
<g id="f3b"><text x="587" y="514" textLength="31" lengthAdjust="spacingAndGlyphs">开头：结论要先行</text><line x1="587" y1="515" x2="618" y2="515"/></g>
<g id="f3c"><text x="587" y="521" textLength="31" lengthAdjust="spacingAndGlyphs">中间：有逻辑支撑</text><line x1="587" y1="522" x2="618" y2="522"/></g>
<g id="f3d"><text x="587" y="527" textLength="26" lengthAdjust="spacingAndGlyphs">结尾：总结观点</text><line x1="587" y1="528" x2="613" y2="528"/></g>
</g>
<g id="nodes-left" class="n">
<g id="g"><text x="221" y="59" textLength="53" lengthAdjust="spacingAndGlyphs">第一节 形象化思考，让你的表达更形象</text><line x1="221" y1="60" x2="274" y2="60"/></g>
<g id="g1"><text x="129" y="52" textLength="85" lengthAdjust="spacingAndGlyphs">一、图示：如何将抽象的东西用图形化的方式表达</text><line x1="129" y1="53" x2="214" y2="53"/></g>
<g id="g2"><text x="131" y="58" textLength="83" lengthAdjust="spacingAndGlyphs">二、比喻：用熟悉的事物帮助对方理解陌生的事物</text><line x1="131" y1="59" x2="214" y2="59"/></g>
<g id="g3"><text x="129" y="63" textLength="85" lengthAdjust="spacingAndGlyphs">三、类比：通过对比的方式，让复杂的东西更容易理解</text><line x1="129" y1="64" x2="214" y2="64"/></g>
<g id="h"><text x="221" y="79" textLength="52" lengthAdjust="spacingAndGlyphs">第二节 形象化表达，让你讲得更生动</text><line x1="221" y1="80" x2="273" y2="80"/></g>
<g id="h1"><text x="173" y="70" textLength="41" lengthAdjust="spacingAndGlyphs">一、用精练的语言表达观点</text><line x1="173" y1="71" x2="214" y2="71"/></g>
<g id="h2"><text x="155" y="76" textLength="59" lengthAdjust="spacingAndGlyphs">二、用结构化的逻辑制作生动PPT</text><line x1="155" y1="77" x2="214" y2="77"/></g>
<g id="h3"><text x="153" y="84" textLength="61" lengthAdjust="spacingAndGlyphs">三、每一张PPT只表达一个中心思想</text><line x1="153" y1="85" x2="214" y2="85"/></g>
<g id="h3a"><text x="95" y="82" textLength="53" lengthAdjust="spacingAndGlyphs">1. 符合记忆目的的四个基本信息</text><line x1="95" y1="83" x2="148" y2="83"/></g>
<g id="h3b"><text x="102" y="89" textLength="46" lengthAdjust="spacingAndGlyphs">2. 运用图表进行有条件的展示</text><line x1="102" y1="90" x2="148" y2="90"/></g>
<g id="i"><text x="221" y="124" textLength="52" lengthAdjust="spacingAndGlyphs">第一节 运用结构化让你的表达更有力</text><line x1="221" y1="125" x2="273" y2="125"/></g>
<g id="i1"><text x="137" y="110" textLength="77" lengthAdjust="spacingAndGlyphs">一、归纳式：通过思考排序，从全局到局部深入</text><line x1="137" y1="111" x2="214" y2="111"/></g>
<g id="i1a"><text x="57" y="101" textLength="71" lengthAdjust="spacingAndGlyphs">A观察、分析法：描述观察到的事实和现象</text><line x1="57" y1="102" x2="128" y2="102"/></g>
<g id="i1b"><text x="57" y="106" textLength="71" lengthAdjust="spacingAndGlyphs">发现式说明与“与观察”法的区别与联系</text><line x1="57" y1="107" x2="128" y2="107"/></g>
<g id="i1c"><text x="93" y="117" textLength="35" lengthAdjust="spacingAndGlyphs">与观察者相关的类型</text><line x1="93" y1="118" x2="128" y2="118"/></g>
<g id="i1c1"><text x="75" y="111" textLength="14" lengthAdjust="spacingAndGlyphs">一般观察</text><line x1="75" y1="112" x2="89" y2="112"/></g>
<g id="i1c2"><text x="75" y="117" textLength="14" lengthAdjust="spacingAndGlyphs">引进观察</text><line x1="75" y1="118" x2="89" y2="118"/></g>
<g id="i1c3"><text x="75" y="123" textLength="14" lengthAdjust="spacingAndGlyphs">复杂观察</text><line x1="75" y1="124" x2="89" y2="124"/></g>
<g id="i1d"><text x="97" y="126" textLength="31" lengthAdjust="spacingAndGlyphs">基本的观察分析法</text><line x1="97" y1="127" x2="128" y2="127"/></g>
<g id="i2"><text x="153" y="137" textLength="61" lengthAdjust="spacingAndGlyphs">二、演绎式：推理论证，从前提到结论</text><line x1="153" y1="138" x2="214" y2="138"/></g>
<g id="i2a"><text x="73" y="131" textLength="75" lengthAdjust="spacingAndGlyphs">观察、重视、演绎等各个方面推理论证的三段论</text><line x1="73" y1="132" x2="148" y2="132"/></g>
<g id="i2b"><text x="88" y="137" textLength="60" lengthAdjust="spacingAndGlyphs">将点式的推理方式运用在日常生活中</text><line x1="88" y1="138" x2="148" y2="138"/></g>
<g id="i2c"><text x="93" y="145" textLength="55" lengthAdjust="spacingAndGlyphs">观点、论据和方案是一样的道理</text><line x1="93" y1="146" x2="148" y2="146"/></g>
<g id="j"><text x="222" y="187" textLength="51" lengthAdjust="spacingAndGlyphs">第二节 运用结构化让你的表达更清晰</text><line x1="222" y1="188" x2="273" y2="188"/></g>
<g id="j1"><text x="137" y="164" textLength="77" lengthAdjust="spacingAndGlyphs">第一步：结论先行，先提出你的观点与中心思想</text><line x1="137" y1="165" x2="214" y2="165"/></g>
<g id="j1a"><text x="47" y="153" textLength="83" lengthAdjust="spacingAndGlyphs">1. 分析某人的思考习惯，归纳总结形成完整的理念</text><line x1="47" y1="154" x2="130" y2="154"/></g>
<g id="j1b"><text x="75" y="166" textLength="55" lengthAdjust="spacingAndGlyphs">2. 明确三种分类方式的具体描述</text><line x1="75" y1="167" x2="130" y2="167"/></g>
<g id="j1b1"><text x="27" y="158" textLength="44" lengthAdjust="spacingAndGlyphs">在分析过程中，统一分类标准</text><line x1="27" y1="159" x2="71" y2="159"/></g>
<g id="j1b2"><text x="27" y="164" textLength="44" lengthAdjust="spacingAndGlyphs">成功的分组中，以论题为重点</text><line x1="27" y1="165" x2="71" y2="165"/></g>
<g id="j1b3"><text x="27" y="169" textLength="44" lengthAdjust="spacingAndGlyphs">提出的分组中，论证更加宏观</text><line x1="27" y1="170" x2="71" y2="170"/></g>
<g id="j1b4"><text x="25" y="175" textLength="46" lengthAdjust="spacingAndGlyphs">每一组分别提出一种分类方式</text><line x1="25" y1="176" x2="71" y2="176"/></g>
<g id="j2"><text x="152" y="202" textLength="62" lengthAdjust="spacingAndGlyphs">第二步：运用MECE原则展开论证方案</text><line x1="152" y1="203" x2="214" y2="203"/></g>
<g id="j2a"><text x="122" y="187" textLength="23" lengthAdjust="spacingAndGlyphs">1. MECE原则</text><line x1="122" y1="188" x2="145" y2="188"/></g>
<g id="j2a1"><text x="35" y="184" textLength="83" lengthAdjust="spacingAndGlyphs">意思：Mutually Exclusive Collectively Exhaustive</text><line x1="35" y1="185" x2="118" y2="185"/></g>
<g id="j2a2"><text x="68" y="191" textLength="50" lengthAdjust="spacingAndGlyphs">要求：<tspan class="r">相互独立，完全穷尽</tspan></text><line x1="68" y1="192" x2="118" y2="192"/></g>
<g id="j2b"><text x="97" y="197" textLength="48" lengthAdjust="spacingAndGlyphs">2. 找MECE的不同方法划分</text><line x1="97" y1="198" x2="145" y2="198"/></g>
<g id="j2c"><text x="96" y="212" textLength="49" lengthAdjust="spacingAndGlyphs">3. 找到满足现实的清晰检测方案</text><line x1="96" y1="213" x2="145" y2="213"/></g>
<g id="j2c1"><text x="8" y="203" textLength="82" lengthAdjust="spacingAndGlyphs">随着这种方式，你需要那些分为几个类别的要素</text><line x1="8" y1="204" x2="90" y2="204"/></g>
<g id="j2c2"><text x="29" y="209" textLength="61" lengthAdjust="spacingAndGlyphs">每个要素之间以统一划分标准作为依据</text><line x1="29" y1="210" x2="90" y2="210"/></g>
<g id="j2c3"><text x="8" y="215" textLength="82" lengthAdjust="spacingAndGlyphs">把所有要素的内容按照相同的标准进行分类整理</text><line x1="8" y1="216" x2="90" y2="216"/></g>
<g id="j2c4"><text x="22" y="221" textLength="68" lengthAdjust="spacingAndGlyphs">确认所有要素和维度是否全面，是否可以检查</text><line x1="22" y1="222" x2="90" y2="222"/></g>
<g id="k"><text x="217" y="239" textLength="56" lengthAdjust="spacingAndGlyphs">第三节 调整结论，让你的结论更有说服力</text><line x1="217" y1="240" x2="273" y2="240"/></g>
<g id="k1"><text x="153" y="231" textLength="57" lengthAdjust="spacingAndGlyphs">1. 先整理成一个完整的论述框架</text><line x1="153" y1="232" x2="210" y2="232"/></g>
<g id="k1a"><text x="109" y="228" textLength="38" lengthAdjust="spacingAndGlyphs">例：总结你的论点，再展开</text><line x1="109" y1="229" x2="147" y2="229"/></g>
<g id="k1b"><text x="60" y="235" textLength="87" lengthAdjust="spacingAndGlyphs">例：运用有效的方式讨论各项问题的结论，让论述更清晰</text><line x1="60" y1="236" x2="147" y2="236"/></g>
<g id="k2"><text x="145" y="244" textLength="65" lengthAdjust="spacingAndGlyphs">2. 再寻找可以选择的其他论证手段作为辅助</text><line x1="145" y1="245" x2="210" y2="245"/></g>
<g id="k2a"><text x="112" y="242" textLength="30" lengthAdjust="spacingAndGlyphs">先提出问题再讨论</text><line x1="112" y1="243" x2="142" y2="243"/></g>
<g id="k2b"><text x="95" y="248" textLength="47" lengthAdjust="spacingAndGlyphs">再找一个要点，可用实际结论</text><line x1="95" y1="249" x2="142" y2="249"/></g>
<g id="m"><text x="215" y="276" textLength="58" lengthAdjust="spacingAndGlyphs">第一节 自上而下，提出你的观点结构</text><line x1="215" y1="277" x2="273" y2="277"/></g>
<g id="m1"><text x="145" y="266" textLength="67" lengthAdjust="spacingAndGlyphs">一、设想问题，认识并写下对结论的表述</text><line x1="145" y1="267" x2="212" y2="267"/></g>
<g id="m1a"><text x="73" y="259.5" textLength="67" lengthAdjust="spacingAndGlyphs">1. 有把握地找出问题的关键所在和核心</text><line x1="73" y1="260.5" x2="140" y2="260.5"/></g>
<g id="m1b"><text x="82" y="266" textLength="58" lengthAdjust="spacingAndGlyphs">2. 设定好需要解决问题的阶段性目标</text><line x1="82" y1="267" x2="140" y2="267"/></g>
<g id="m1c"><text x="63" y="272" textLength="77" lengthAdjust="spacingAndGlyphs">3. 在有条件的情况下可以找到解决问题的具体方法</text><line x1="63" y1="273" x2="140" y2="273"/></g>
<g id="m2"><text x="167" y="285" textLength="45" lengthAdjust="spacingAndGlyphs">二、要使用论据支撑观点</text><line x1="167" y1="286" x2="212" y2="286"/></g>
<g id="m2a"><text x="123" y="279" textLength="37" lengthAdjust="spacingAndGlyphs">1. 找到与观点相关的论据</text><line x1="123" y1="280" x2="160" y2="280"/></g>
<g id="m2b"><text x="87" y="285" textLength="73" lengthAdjust="spacingAndGlyphs">2. 每个观点都要有论据支撑，不能凭空而来</text><line x1="87" y1="286" x2="160" y2="286"/></g>
<g id="m2c"><text x="113" y="291" textLength="47" lengthAdjust="spacingAndGlyphs">3. 论据要真实有效并有说服力</text><line x1="113" y1="292" x2="160" y2="292"/></g>
<g id="nn"><text x="215" y="316" textLength="58" lengthAdjust="spacingAndGlyphs">第二节 自下而上，概括提炼出你的思想</text><line x1="215" y1="317" x2="273" y2="317"/></g>
<g id="n1"><text x="183" y="304" textLength="29" lengthAdjust="spacingAndGlyphs">一、归纳总结法</text><line x1="183" y1="305" x2="212" y2="305"/></g>
<g id="n1a"><text x="140" y="300" textLength="33" lengthAdjust="spacingAndGlyphs">1. 收集所有相关信息</text><line x1="140" y1="301" x2="173" y2="301"/></g>
<g id="n1b"><text x="145" y="306" textLength="28" lengthAdjust="spacingAndGlyphs">2. 对信息进行分类</text><line x1="145" y1="307" x2="173" y2="307"/></g>
<g id="n1c"><text x="140" y="312" textLength="33" lengthAdjust="spacingAndGlyphs">3. 对每个分类提炼观点</text><line x1="140" y1="313" x2="173" y2="313"/></g>
<g id="n2"><text x="137" y="324" textLength="75" lengthAdjust="spacingAndGlyphs">二、概括总结，逐步形成<tspan class="r">结构化思维</tspan>的习惯和能力</text><line x1="137" y1="325" x2="212" y2="325"/></g>
<g id="n2a"><text x="88" y="319.5" textLength="44" lengthAdjust="spacingAndGlyphs">方法1、寻找共性，提炼观点</text><line x1="88" y1="320.5" x2="132" y2="320.5"/></g>
<g id="n2b"><text x="60" y="325.5" textLength="72" lengthAdjust="spacingAndGlyphs">方法2、概括提炼：找出问题的共同点，一句话总结</text><line x1="60" y1="326.5" x2="132" y2="326.5"/></g>
<g id="n2c"><text x="60" y="331.5" textLength="72" lengthAdjust="spacingAndGlyphs">方法3、要素提炼：提炼共同要素，概括为一个观点</text><line x1="60" y1="332.5" x2="132" y2="332.5"/></g>
<g id="o"><text x="215" y="342" textLength="58" lengthAdjust="spacingAndGlyphs">第三节 上下结合，构建完整的思维结构</text><line x1="215" y1="343" x2="273" y2="343"/></g>
<g id="o1"><text x="167" y="338" textLength="41" lengthAdjust="spacingAndGlyphs">自上而下提出假设并验证</text><line x1="167" y1="339" x2="208" y2="339"/></g>
<g id="o2"><text x="167" y="343" textLength="41" lengthAdjust="spacingAndGlyphs">自下而上归纳总结观点</text><line x1="167" y1="344" x2="208" y2="344"/></g>
<g id="p"><text x="249" y="375" textLength="54" lengthAdjust="spacingAndGlyphs">第一节 确定目的，让沟通更加有的放矢</text><line x1="249" y1="376" x2="303" y2="376"/></g>
<g id="p0"><text x="202" y="357" textLength="41" lengthAdjust="spacingAndGlyphs">沟通之前要先明确沟通的目的</text><line x1="202" y1="358" x2="243" y2="358"/></g>
<g id="p1"><text x="210" y="366" textLength="33" lengthAdjust="spacingAndGlyphs">一、目标要清晰明确</text><line x1="210" y1="367" x2="243" y2="367"/></g>
<g id="p1a"><text x="163" y="363" textLength="42" lengthAdjust="spacingAndGlyphs">1. 确认沟通所要解决的问题</text><line x1="163" y1="364" x2="205" y2="364"/></g>
<g id="p1b"><text x="180" y="369" textLength="25" lengthAdjust="spacingAndGlyphs">2. 明确沟通对象</text><line x1="180" y1="370" x2="205" y2="370"/></g>
<g id="p2"><text x="183" y="383" textLength="59" lengthAdjust="spacingAndGlyphs">二、确定目的：可以用ABCD法</text><line x1="183" y1="384" x2="242" y2="384"/></g>
<g id="p2a"><text x="148" y="376" textLength="29" lengthAdjust="spacingAndGlyphs">Actor：受众是谁</text><line x1="148" y1="377" x2="177" y2="377"/></g>
<g id="p2b"><text x="135" y="381.5" textLength="42" lengthAdjust="spacingAndGlyphs">Condition：在什么情况下？</text><line x1="135" y1="382.5" x2="177" y2="382.5"/></g>
<g id="p2c"><text x="135" y="388" textLength="42" lengthAdjust="spacingAndGlyphs">Behavior：完成什么任务</text><line x1="135" y1="389" x2="177" y2="389"/></g>
<g id="p2d"><text x="137" y="394" textLength="40" lengthAdjust="spacingAndGlyphs">Degree：达成什么程度</text><line x1="137" y1="395" x2="177" y2="395"/></g>
<g id="q"><text x="249" y="418" textLength="54" lengthAdjust="spacingAndGlyphs">第二节 设定主题，让沟通更有吸引力</text><line x1="249" y1="419" x2="303" y2="419"/></g>
<g id="q1"><text x="217" y="402" textLength="25" lengthAdjust="spacingAndGlyphs">主题的三个要素</text><line x1="217" y1="403" x2="242" y2="403"/></g>
<g id="q1a"><text x="175" y="400" textLength="37" lengthAdjust="spacingAndGlyphs">要解决的问题是什么</text><line x1="175" y1="401" x2="212" y2="401"/></g>
<g id="q1b"><text x="172" y="407" textLength="40" lengthAdjust="spacingAndGlyphs">如何让受众更有兴趣接受</text><line x1="172" y1="408" x2="212" y2="408"/></g>
<g id="q2"><text x="180" y="412" textLength="62" lengthAdjust="spacingAndGlyphs">一、确定主题：一次沟通只有一个主题</text><line x1="180" y1="413" x2="242" y2="413"/></g>
<g id="q3"><text x="183" y="426" textLength="59" lengthAdjust="spacingAndGlyphs">二、设定主题：一个好主题的标准</text><line x1="183" y1="427" x2="242" y2="427"/></g>
<g id="q3a"><text x="150" y="423" textLength="27" lengthAdjust="spacingAndGlyphs">好主题的三原则</text><line x1="150" y1="424" x2="177" y2="424"/></g>
<g id="q3a1"><text x="135" y="418" textLength="8" lengthAdjust="spacingAndGlyphs">简单</text><line x1="135" y1="419" x2="143" y2="419"/></g>
<g id="q3a2"><text x="135" y="424" textLength="8" lengthAdjust="spacingAndGlyphs">具体</text><line x1="135" y1="425" x2="143" y2="425"/></g>
<g id="q3a3"><text x="117" y="430" textLength="26" lengthAdjust="spacingAndGlyphs">与受众相关联</text><line x1="117" y1="431" x2="143" y2="431"/></g>
<g id="q3b"><text x="132" y="436" textLength="45" lengthAdjust="spacingAndGlyphs">符合受众的需求和关注点</text><line x1="132" y1="437" x2="177" y2="437"/></g>
<g id="rr"><text x="249" y="471" textLength="54" lengthAdjust="spacingAndGlyphs">第三节 设计开场，让沟通更吸引人</text><line x1="249" y1="472" x2="303" y2="472"/></g>
<g id="r0"><text x="160" y="442" textLength="82" lengthAdjust="spacingAndGlyphs">沟通的时间十分有限，开场就要迅速吸引对方的注意力</text><line x1="160" y1="443" x2="242" y2="443"/></g>
<g id="r1"><text x="187" y="462" textLength="55" lengthAdjust="spacingAndGlyphs">一、开场设计：四种常用的开场方式</text><line x1="187" y1="463" x2="242" y2="463"/></g>
<g id="r1a"><text x="140" y="449" textLength="40" lengthAdjust="spacingAndGlyphs">问题：引发受众的思考</text><line x1="140" y1="450" x2="180" y2="450"/></g>
<g id="r1b"><text x="140" y="455" textLength="40" lengthAdjust="spacingAndGlyphs">冲突：引起受众的关注</text><line x1="140" y1="456" x2="180" y2="456"/></g>
<g id="r1c"><text x="115" y="462" textLength="65" lengthAdjust="spacingAndGlyphs">CCTV开场法：背景、冲突、疑问和回答</text><line x1="115" y1="463" x2="180" y2="463"/></g>
<g id="r1d"><text x="143" y="468" textLength="37" lengthAdjust="spacingAndGlyphs">故事：吸引受众兴趣</text><line x1="143" y1="469" x2="180" y2="469"/></g>
<g id="r1e"><text x="137" y="474" textLength="43" lengthAdjust="spacingAndGlyphs">数据：用事实说明问题</text><line x1="137" y1="475" x2="180" y2="475"/></g>
<g id="r2"><text x="178" y="489" textLength="64" lengthAdjust="spacingAndGlyphs">二、开场结构：用讲故事的方式进行开场</text><line x1="178" y1="490" x2="242" y2="490"/></g>
<g id="r2a"><text x="148" y="480" textLength="25" lengthAdjust="spacingAndGlyphs">背景：情境S</text><line x1="148" y1="481" x2="173" y2="481"/></g>
<g id="r2b"><text x="145" y="486" textLength="28" lengthAdjust="spacingAndGlyphs">冲突：矛盾C</text><line x1="145" y1="487" x2="173" y2="487"/></g>
<g id="r2c"><text x="147" y="492" textLength="26" lengthAdjust="spacingAndGlyphs">疑问：问题Q</text><line x1="147" y1="493" x2="173" y2="493"/></g>
<g id="r2d"><text x="143" y="498" textLength="30" lengthAdjust="spacingAndGlyphs">回答：答案A</text><line x1="143" y1="499" x2="173" y2="499"/></g>
</g>
</svg>
